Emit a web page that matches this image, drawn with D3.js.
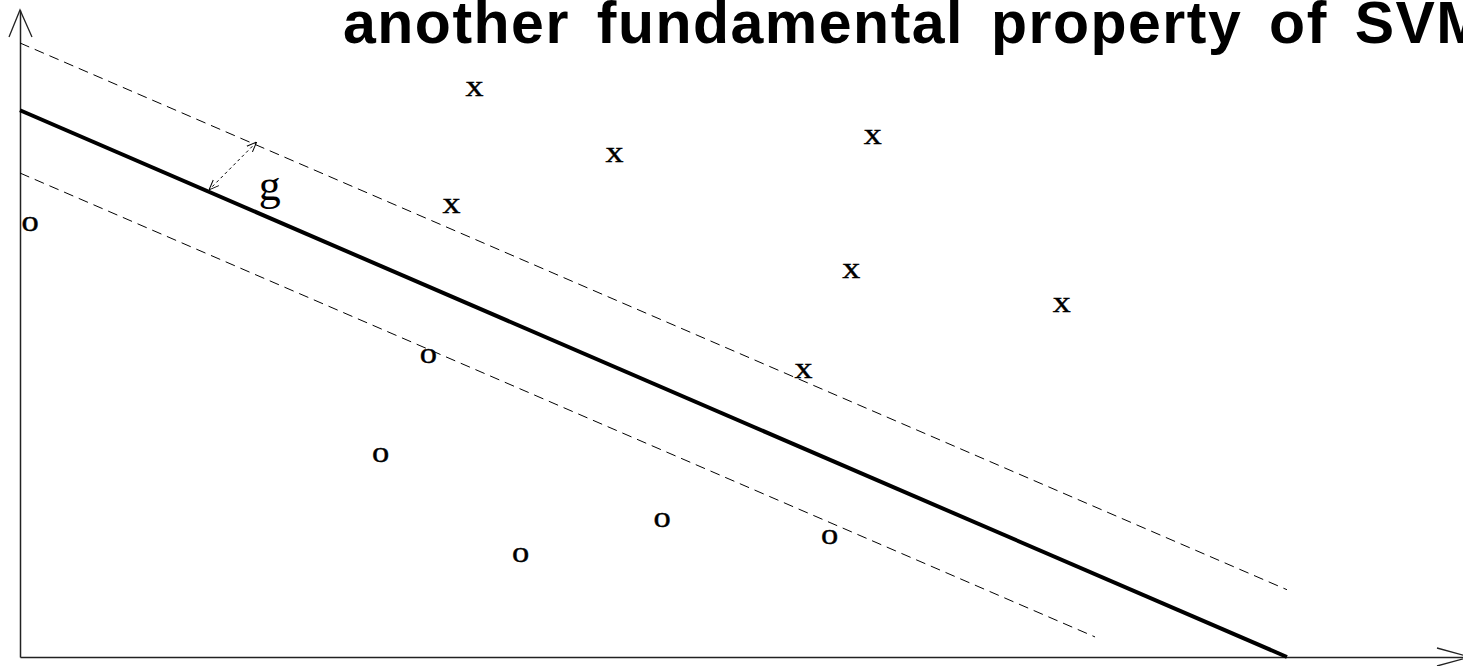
<!DOCTYPE html>
<html><head><meta charset="utf-8">
<script src="https://cdn.jsdelivr.net/npm/d3@7"></script>
<style>html,body{margin:0;padding:0;background:#fff;overflow:hidden}</style>
</head><body>
<svg id="c" width="1463" height="666"></svg>
<script>
const titleText = "another fundamental property of SVM";
const xPoints = [[31.5,88.3],[41.2,78.1],[59.1,80.8],[29.9,70.2],[57.6,60.1],[72.2,54.9],[54.3,44.7]];
const oPoints = [[0.7,67.4],[28.3,47.0],[25.0,31.7],[44.5,21.6],[34.7,16.2],[56.1,19.0]];
const separator = [[0,84.5],[87.8,0]];
const marginUpper = [[0,94.9],[87.8,10.4]];
const marginLower = [[0,74.8],[74.5,3.1]];
const gapArrow = [[16.4,79.6],[13.1,72.2]];
const gapLabel = {label:"g", x:17.3, y:70.6};

const svg = d3.select("#c");
const x = d3.scaleLinear().domain([0,100]).range([20,1463]);
const y = d3.scaleLinear().domain([0,100]).range([657,10]);
const line = d3.line().x(d=>x(d[0])).y(d=>y(d[1]));

const defs = svg.append("defs");
defs.append("marker").attr("id","ah").attr("viewBox","0 0 10 10").attr("refX",10).attr("refY",5)
  .attr("markerWidth",10).attr("markerHeight",10).attr("markerUnits","userSpaceOnUse").attr("orient","auto-start-reverse")
  .append("path").attr("d","M0,1 L10,5 L0,9").attr("fill","none").attr("stroke","#000").attr("stroke-width",1);

// axes
svg.append("g").attr("transform",`translate(${x(0)},0)`)
  .call(d3.axisLeft(y).tickValues([]).tickSizeOuter(0))
  .select(".domain").attr("stroke","#222").attr("stroke-width",1.5);
svg.append("g").attr("transform",`translate(0,${y(0)})`)
  .call(d3.axisBottom(d3.scaleLinear().domain([0,100]).range([20,1470])).tickValues([]).tickSizeOuter(0))
  .select(".domain").attr("stroke","#222").attr("stroke-width",1.5);
// axis arrowheads
svg.append("path").attr("d",`M${x(0)-11},${y(100)+27} L${x(0)},${y(100)} L${x(0)+12},${y(100)+27}`)
  .attr("fill","none").attr("stroke","#222").attr("stroke-width",1.3);
svg.append("path").attr("d",`M1437,648 L1470,${y(0)} L1437,666`)
  .attr("fill","none").attr("stroke","#222").attr("stroke-width",1.3);

// lines
svg.append("path").attr("d",line(marginUpper)).attr("fill","none").attr("stroke","#000").attr("stroke-width",1).attr("stroke-dasharray","10,6");
svg.append("path").attr("d",line(marginLower)).attr("fill","none").attr("stroke","#000").attr("stroke-width",1).attr("stroke-dasharray","10,6");
svg.append("path").attr("d",line(separator)).attr("fill","none").attr("stroke","#000").attr("stroke-width",4);

// gap arrow
svg.append("path").attr("d",line(gapArrow)).attr("fill","none").attr("stroke","#000").attr("stroke-width",1)
  .attr("stroke-dasharray","3,3").attr("marker-start","url(#ah)").attr("marker-end","url(#ah)");
svg.append("text").attr("x",x(gapLabel.x)).attr("y",y(gapLabel.y)).attr("text-anchor","middle")
  .attr("font-family","Liberation Serif, Times New Roman, serif").attr("font-size",44).text(gapLabel.label);

// points
const mf = "Liberation Serif, Times New Roman, serif";
svg.selectAll("text.xp").data(xPoints).join("text").attr("class","xp")
  .attr("x",d=>x(d[0])).attr("y",d=>y(d[1])).attr("dy","0.33em").attr("text-anchor","middle")
  .attr("font-family",mf).attr("font-size",30).attr("transform",d=>`translate(${x(d[0])},0) scale(1.2,1) translate(${-x(d[0])},0)`)
  .attr("stroke","#000").attr("stroke-width",0.4).text("x");
svg.selectAll("text.op").data(oPoints).join("text").attr("class","op")
  .attr("x",d=>x(d[0])).attr("y",d=>y(d[1])).attr("dy","0.33em").attr("text-anchor","middle")
  .attr("font-family",mf).attr("font-size",30).attr("transform",d=>`translate(${x(d[0])},0) scale(1.15,1) translate(${-x(d[0])},0)`)
  .attr("stroke","#000").attr("stroke-width",0.4).text("o");

// title (cut off at the right edge, as in the reference)
svg.append("text").attr("x",343).attr("y",43).attr("font-family","Liberation Sans, Arial, sans-serif")
  .attr("font-weight","bold").attr("font-size",59).attr("letter-spacing",1.5).attr("word-spacing",9).text(titleText);
</script>
</body></html>
